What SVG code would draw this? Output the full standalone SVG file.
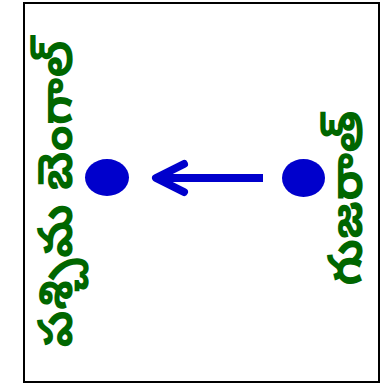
<svg xmlns="http://www.w3.org/2000/svg" width="391" height="384" viewBox="0 0 391 384">
<style>
.lbl{font-family:"Noto Sans Telugu","Noto Sans","DejaVu Sans",sans-serif;font-weight:bold;font-size:48px;fill:#006600;text-anchor:middle;dominant-baseline:central}
.dot{fill:#0000cc}
</style>
<rect x="0" y="0" width="391" height="384" fill="#ffffff"/>
<rect x="24" y="3" width="355" height="379" fill="none" stroke="#000" stroke-width="2"/>
<g id="west-bengal">
<ellipse class="dot" cx="107" cy="177.5" rx="22" ry="18.5"/>
<text class="lbl" transform="translate(62,194) rotate(-90)">పశ్చిమ బెంగాల్</text>
</g>
<g id="gujarat">
<ellipse class="dot" cx="303.5" cy="178" rx="21.5" ry="19"/>
<text class="lbl" transform="translate(352,198) rotate(-90)">గుజరాత్</text>
</g>
<g id="connectors" stroke="#0000cc" stroke-width="8" stroke-linecap="round" stroke-linejoin="round" fill="none">
<line x1="263" y1="178" x2="158" y2="178" stroke-linecap="butt"/>
<polyline points="184,164 156,178 184,192"/>
</g>
</svg>
